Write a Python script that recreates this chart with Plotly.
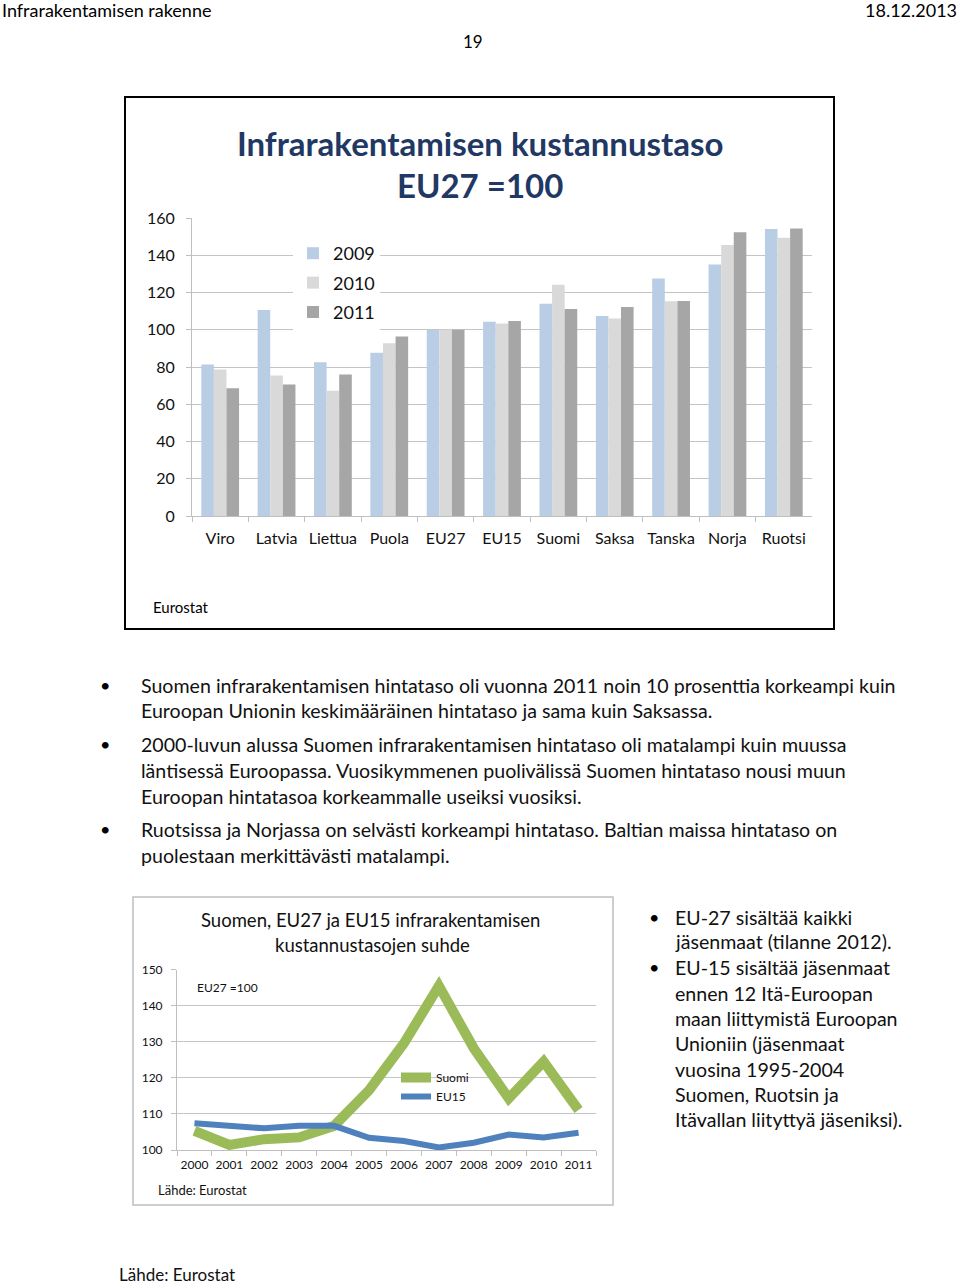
import plotly.graph_objects as go

W, H = 960, 1285

# ---------- data ----------
countries = ["Viro", "Latvia", "Liettua", "Puola", "EU27", "EU15", "Suomi", "Saksa", "Tanska", "Norja", "Ruotsi"]
v2009 = [81.4, 110.6, 82.6, 87.6, 100, 104.3, 114.0, 107.4, 127.5, 135.1, 154.1]
v2010 = [78.7, 75.4, 67.3, 92.7, 100, 103.3, 124.1, 106.1, 115.3, 145.5, 149.4]
v2011 = [68.6, 70.6, 76.0, 96.4, 100, 104.7, 111.2, 112.2, 115.5, 152.3, 154.3]
bar_series = [("2009", v2009, "#b9cde5"), ("2010", v2010, "#d9d9d9"), ("2011", v2011, "#a6a6a6")]

years = ["2000", "2001", "2002", "2003", "2004", "2005", "2006", "2007", "2008", "2009", "2010", "2011"]
suomi = [105.3, 101.4, 103.0, 103.5, 106.7, 116.6, 129.6, 145.5, 128.2, 114.3, 124.5, 111.1]
eu15 = [107.4, 106.7, 106.0, 106.7, 106.7, 103.4, 102.5, 100.7, 102.0, 104.3, 103.5, 104.8]

bar_yticks = [0, 20, 40, 60, 80, 100, 120, 140, 160]
line_yticks = [100, 110, 120, 130, 140, 150]

bullets_main = [
    ["Suomen infrarakentamisen hintataso oli vuonna 2011 noin 10 prosenttia korkeampi kuin",
     "Euroopan Unionin keskimääräinen hintataso ja sama kuin Saksassa."],
    ["2000-luvun alussa Suomen infrarakentamisen hintataso oli matalampi kuin muussa",
     "läntisessä Euroopassa. Vuosikymmenen puolivälissä Suomen hintataso nousi muun",
     "Euroopan hintatasoa korkeammalle useiksi vuosiksi."],
    ["Ruotsissa ja Norjassa on selvästi korkeampi hintataso. Baltian maissa hintataso on",
     "puolestaan merkittävästi matalampi."],
]
bullets_side = [
    ["EU-27 sisältää kaikki", "jäsenmaat (tilanne 2012)."],
    ["EU-15 sisältää jäsenmaat", "ennen 12 Itä-Euroopan", "maan liittymistä Euroopan",
     "Unioniin (jäsenmaat", "vuosina 1995-2004", "Suomen, Ruotsin ja", "Itävallan liityttyä jäseniksi)."],
]

FONT = "Lato"


def px(x):
    return x / W


def py(y):
    return 1 - y / H


fig = go.Figure()

for name, vals, col in bar_series:
    fig.add_trace(go.Bar(x=countries, y=vals, name=name, marker=dict(color=col, line=dict(width=0)),
                         xaxis="x", yaxis="y", legend="legend", legendgroup=name))

fig.add_trace(go.Scatter(x=years, y=suomi, name="Suomi", mode="lines",
                         line=dict(color="#9bbb59", width=10), xaxis="x2", yaxis="y2", legend="legend2"))
fig.add_trace(go.Scatter(x=years, y=eu15, name="EU15", mode="lines",
                         line=dict(color="#4f81bd", width=6), xaxis="x2", yaxis="y2", legend="legend2"))

ann = []


def text(x, y, s, size, color="#000000", xanchor="left", bold=False, family=FONT):
    ann.append(dict(x=px(x), y=py(y), xref="paper", yref="paper", text=("<b>%s</b>" % s) if bold else s,
                    showarrow=False, xanchor=xanchor, yanchor="middle",
                    font=dict(size=size, color=color, family=family)))


# header
text(0, 10, "Infrarakentamisen rakenne", 18, "#000000")
text(959, 10, "18.12.2013", 18, "#000000", xanchor="right")
text(473, 41, "19", 17, "#000000", xanchor="center")

# bar chart title and source
text(480, 143, "Infrarakentamisen kustannustaso", 33, "#1f3864", xanchor="center", bold=True)
text(480, 185, "EU27 =100", 33, "#1f3864", xanchor="center", bold=True)
text(151, 607, "Eurostat", 15)

# main bullets
ys = [[685, 710], [744, 770, 796], [829, 855]]
for blines, yl in zip(bullets_main, ys):
    text(98, yl[0], "•", 18)
    for line, yy in zip(blines, yl):
        text(139, yy, line, 19.6, "#111111")

# side bullets
ys2 = [[917, 942], [967, 993, 1018, 1043, 1069, 1094, 1119]]
for blines, yl in zip(bullets_side, ys2):
    text(647, yl[0], "•", 18)
    for line, yy in zip(blines, yl):
        text(673, yy, line, 19.6, "#111111")

# line chart text
text(370, 920, "Suomen, EU27 ja EU15 infrarakentamisen", 18.5, "#111111", xanchor="center")
text(372, 945, "kustannustasojen suhde", 18.5, "#111111", xanchor="center")
text(195, 987, "EU27 =100", 12, "#111111")
text(156, 1190, "Lähde: Eurostat", 13, "#111111")

# footer
text(117, 1274, "Lähde: Eurostat", 17, "#111111")

shapes = [
    dict(type="rect", xref="paper", yref="paper", x0=px(125), x1=px(834), y0=py(97), y1=py(629),
         line=dict(color="#000000", width=2), layer="below"),
    dict(type="rect", xref="paper", yref="paper", x0=px(133), x1=px(613), y0=py(897), y1=py(1205),
         line=dict(color="#bfbfbf", width=1.5), layer="below"),
]

grid = "#c4c4c4"
fig.update_layout(
    template="none",
    width=W, height=H, margin=dict(l=0, r=0, t=0, b=0, pad=0, autoexpand=False),
    paper_bgcolor="white", plot_bgcolor="white",
    font=dict(family=FONT, color="#111111"),
    barmode="group", bargap=0.33, bargroupgap=0,
    showlegend=True,
    xaxis=dict(domain=[px(192), px(812)], anchor="y", type="category", tickfont=dict(size=16, color="#111111"),
               showline=True, linecolor="#bfbfbf", linewidth=1, ticks="outside", tickson="boundaries",
               ticklen=5, tickcolor="#bfbfbf", showgrid=False, ticklabelstandoff=8, tickangle=0,
               automargin=False),
    yaxis=dict(domain=[py(516), py(218)], anchor="x", range=[0, 160], tickvals=bar_yticks,
               tickfont=dict(size=16, color="#111111"), showgrid=True, gridcolor=grid, gridwidth=1.3,
               showline=True, linecolor="#bfbfbf", ticks="outside", ticklen=5, tickcolor="#bfbfbf",
               zeroline=False, ticklabelstandoff=8, automargin=False),
    xaxis2=dict(domain=[px(177), px(596)], anchor="y2", type="category", range=[-0.5, 11.5],
                tickfont=dict(size=12, color="#111111"),
                showline=True, linecolor="#bfbfbf", ticks="outside", tickson="boundaries", ticklen=5,
                tickcolor="#bfbfbf", showgrid=False, ticklabelstandoff=4, tickangle=0, automargin=False),
    yaxis2=dict(domain=[py(1150), py(969.7)], anchor="x2", range=[100, 150], tickvals=line_yticks,
                tickfont=dict(size=12, color="#111111"), showgrid=True, gridcolor=grid, gridwidth=1,
                showline=True, linecolor="#bfbfbf", ticks="outside", ticklen=5, tickcolor="#bfbfbf",
                zeroline=False, ticklabelstandoff=6, automargin=False),
    legend=dict(x=px(293), y=py(235), xanchor="left", yanchor="top", bgcolor="white",
                font=dict(size=18, color="#111111"), tracegroupgap=3, itemwidth=30),
    legend2=dict(x=px(396), y=py(1063), xanchor="left", yanchor="top", bgcolor="rgba(0,0,0,0)",
                 font=dict(size=12, color="#111111"), tracegroupgap=0, itemwidth=30),
    annotations=ann, shapes=shapes,
)

fig.write_html("out.html", config={"displayModeBar": False},
               post_script="document.body.style.margin='0';document.body.style.padding='0';")
